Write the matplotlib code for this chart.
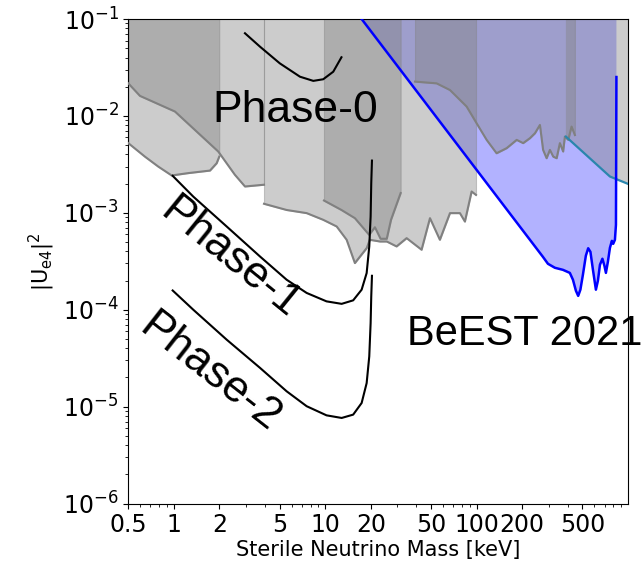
import matplotlib
matplotlib.use("Agg")
import matplotlib.pyplot as plt

# ---- existing limits (grey bands): mass [keV] and lower edge of |U_e4|^2 ----
lim_a_mass = [0.5, 0.644, 0.789, 0.967, 1.245, 1.733, 1.918, 1.995]
lim_a_u = [5.24e-3, 3.80e-3, 3.00e-3, 2.43e-3, 2.57e-3, 2.73e-3, 3.25e-3, 3.80e-3]

lim_b_mass = [0.5, 0.597, 1.017, 1.965, 2.53, 2.95, 3.94]
lim_b_u = [2.17e-2, 1.61e-2, 1.11e-2, 4.29e-3, 2.47e-3, 1.87e-3, 1.95e-3]

lim_c_mass = [3.94, 5.56, 7.54, 9.70, 11.9, 13.85, 15.7, 18.8, 19.7, 23.0, 25.5,
              29.6, 34.5, 43.3, 49.2, 57.2, 66.7, 77.6, 83.7, 92.7, 99.1]
lim_c_u = [1.24e-3, 1.07e-3, 9.93e-4, 8.47e-4, 7.23e-4, 5.27e-4, 3.03e-4, 4.33e-4,
           5.27e-4, 5.06e-4, 5.06e-4, 4.50e-4, 5.48e-4, 4.16e-4, 8.81e-4, 5.27e-4,
           9.93e-4, 9.93e-4, 8.12e-4, 1.66e-3, 1.53e-3]

lim_d_mass = [9.81, 12.8, 15.7, 19.5, 21.3, 23.2, 25.5, 27.2, 31.5]
lim_d_u = [1.34e-3, 1.07e-3, 8.81e-4, 5.93e-4, 7.10e-4, 5.40e-4, 5.40e-4, 8.47e-4, 1.60e-3]

lim_e_mass = [39.2, 54.4, 66.7, 85.9, 100, 116.5, 135.5, 158, 184, 203, 225, 243,
              262, 275, 290, 305, 321, 338, 355, 373, 383, 403, 424, 446]
lim_e_u = [2.26e-2, 2.17e-2, 1.85e-2, 1.25e-2, 8.4e-3, 5.66e-3, 4.12e-3, 4.65e-3,
           5.66e-3, 5.24e-3, 5.89e-3, 6.63e-3, 8.07e-3, 4.46e-3, 3.66e-3, 4.46e-3,
           3.80e-3, 3.66e-3, 5.24e-3, 4.29e-3, 6.12e-3, 5.66e-3, 7.76e-3, 6.35e-3]

lim_g_mass = [389, 760, 1000]
lim_g_u = [6.12e-3, 2.37e-3, 1.99e-3]

# ---- BeEST 2021 exclusion ----
beest_mass = [17.4, 274, 296, 329, 372, 413, 433, 453, 469, 485, 504, 527, 546, 565,
              587, 614, 633, 653, 678, 699, 715, 737, 760, 783, 799, 820, 833, 839]
beest_u = [0.1, 3.52e-4, 2.98e-4, 2.71e-4, 2.58e-4, 2.40e-4, 2.04e-4, 1.57e-4,
           1.39e-4, 1.61e-4, 2.30e-4, 3.61e-4, 4.31e-4, 3.96e-4, 2.58e-4, 1.61e-4,
           1.99e-4, 2.91e-4, 3.36e-4, 2.84e-4, 2.40e-4, 3.13e-4, 4.35e-4, 5.14e-4,
           4.79e-4, 5.27e-4, 7.51e-4, 2.52e-2]

# ---- projected sensitivities ----
phase0_mass = [2.95, 3.71, 5.01, 6.81, 8.34, 9.70, 11.3, 12.8]
phase0_u = [7.13e-2, 5.18e-2, 3.49e-2, 2.54e-2, 2.30e-2, 2.39e-2, 2.86e-2, 4.03e-2]

phase1_mass = [0.982, 1.344, 2.233, 3.71, 5.56, 7.54, 10.2, 12.84, 15.3, 17.4,
               18.78, 19.54, 19.95, 20.14, 20.36]
phase1_u = [2.41e-3, 1.47e-3, 7.23e-4, 3.54e-4, 2.04e-4, 1.49e-4, 1.22e-4, 1.15e-4,
            1.25e-4, 1.61e-4, 2.39e-4, 4.50e-4, 9.16e-4, 2.02e-3, 3.46e-3]

phase2_mass = [0.982, 1.344, 2.233, 3.71, 5.56, 7.54, 10.2, 12.84, 15.3, 17.4,
               18.78, 19.54, 19.95, 20.14, 20.36]
phase2_u = [1.58e-4, 1.00e-4, 4.91e-5, 2.51e-5, 1.44e-5, 1.01e-5, 8.13e-6, 7.64e-6,
            8.27e-6, 1.09e-5, 1.75e-5, 3.30e-5, 7.29e-5, 1.37e-4, 2.24e-4]

x_ticks = [0.5, 1, 2, 5, 10, 20, 50, 100, 200, 500]
x_tick_labels = ["0.5", "1", "2", "5", "10", "20", "50", "100", "200", "500"]

TOP = 0.2  # fills run past the upper axis limit

fig = plt.figure(figsize=(6.44, 5.68), dpi=100)
ax = fig.add_axes([0.1992, 0.1135, 0.7759, 0.8530])
ax.set_xscale("log")
ax.set_yscale("log")

# BeEST region (underneath the grey limits)
ax.fill_between(beest_mass, beest_u, TOP, facecolor="blue", alpha=0.3, lw=0, zorder=1)

# grey limit bands
for m, u in [(lim_a_mass, lim_a_u), (lim_b_mass, lim_b_u), (lim_c_mass, lim_c_u),
             (lim_d_mass, lim_d_u), (lim_e_mass, lim_e_u)]:
    ax.fill_between(m, u, TOP, facecolor="gray", edgecolor="gray", alpha=0.4,
                    lw=0.8, zorder=2)
    ax.plot(m, u, color="#808080", lw=1.5, zorder=3)

ax.fill_between(lim_g_mass, lim_g_u, TOP, facecolor="gray", alpha=0.4, lw=0, zorder=2)
ax.plot(lim_g_mass, lim_g_u, color="#2a86ad", lw=1.6, zorder=3)

# BeEST boundary
ax.plot(beest_mass, beest_u, color="blue", lw=1.8, zorder=4)

# sensitivity curves
for m, u in [(phase0_mass, phase0_u), (phase1_mass, phase1_u), (phase2_mass, phase2_u)]:
    ax.plot(m, u, color="black", lw=1.5, zorder=5)

label_font = "Liberation Sans"
ax.text(6.31, 8.7e-3, "Phase-0", fontsize=32, family=label_font,
        ha="center", va="baseline", zorder=6)
ax.text(2.35, 3.42e-4, "Phase-1", fontsize=32, family=label_font, rotation=-39,
        rotation_mode="anchor", ha="center", va="center", zorder=6)
ax.text(1.733, 2.21e-5, "Phase-2", fontsize=32, family=label_font, rotation=-38,
        rotation_mode="anchor", ha="center", va="center", zorder=6)
ax.text(34.5, 4.33e-5, "BeEST 2021", fontsize=30, family=label_font,
        ha="left", va="baseline", zorder=6)

ax.set_xlim(0.5, 1000)
ax.set_ylim(1e-6, 1e-1)
ax.set_xticks(x_ticks)
ax.set_xticklabels(x_tick_labels)
ax.tick_params(axis="both", which="major", labelsize=17)
ax.set_xlabel("Sterile Neutrino Mass [keV]", fontsize=15, labelpad=2)
ax.set_ylabel(r"|U$_{\mathrm{e4}}$|$^2$", fontsize=15)
ax.yaxis.set_label_coords(-0.142, 0.5)

fig.savefig("out.png", dpi=100)
